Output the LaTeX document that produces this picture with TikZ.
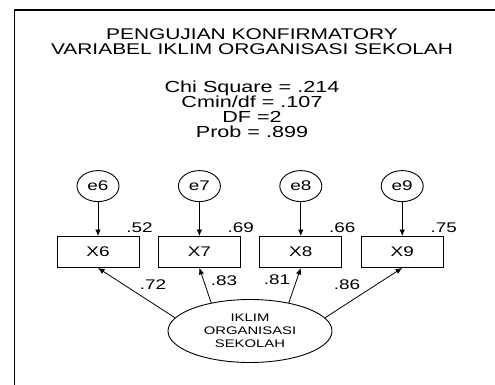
\documentclass[tikz,border=0pt]{standalone}
\usepackage{fontspec}
\setmainfont{Liberation Sans}
\usetikzlibrary{arrows.meta,positioning,shapes.geometric}
% AMOS draws its text stretched sideways
\newcommand{\wtxt}[1]{\scalebox{1.35}[1]{#1}}

\begin{document}
\begin{tikzpicture}[x=1pt, y=-1pt,
  every node/.style={inner sep=0pt},
  obs/.style={draw, line width=0.9pt, minimum width=82pt, minimum height=31pt, font=\fontsize{14}{14}\selectfont},
  err/.style={draw, ellipse, line width=0.9pt, minimum width=42pt, minimum height=31pt, font=\fontsize{14}{14}\selectfont},
  lat/.style={draw, ellipse, line width=0.9pt, minimum width=164pt, minimum height=63pt, align=center, font=\fontsize{11}{13}\selectfont},
  val/.style={font=\fontsize{14}{14}\selectfont},
  arr/.style={-{Latex[length=6.5pt,width=5.5pt]}, line width=0.8pt}]
\useasboundingbox (0,0) rectangle (495,385);
%----- cornice -----
\draw[line width=1.3pt] (14.5,385) -- (14.5,10) -- (495,10);

%----- titolo e statistiche -----
\node (title) [anchor=north, align=center, font=\fontsize{15.5}{15}\selectfont] at (252,28)
  {\wtxt{PENGUJIAN KONFIRMATORY}\\\wtxt{VARIABEL IKLIM ORGANISASI SEKOLAH}};
\node (stats) [anchor=north, align=center, font=\fontsize{16}{15}\selectfont] at (252,81)
  {\wtxt{Chi Square = .214}\\\wtxt{Cmin/df = .107}\\\wtxt{DF =2}\\\wtxt{Prob = .899}};

%----- indikatori -----
\node (x6) [obs] at (98,252) {\wtxt{X6}};
\node (x7) [obs, right=18.5pt of x6] {\wtxt{X7}};
\node (x8) [obs, right=18.5pt of x7] {\wtxt{X8}};
\node (x9) [obs, right=18.5pt of x8] {\wtxt{X9}};

% errori e R^2
\foreach \i/\r in {6/.52, 7/.69, 8/.66, 9/.75} {
  \node (e\i) [err, above=34pt of x\i] {\wtxt{e\i}};
  \node (r\i) [val, above=3pt of x\i.north east] {\wtxt{\r}};
  \draw[arr] (e\i) -- (x\i);
}

%----- variabile latente -----
\node (iklim) [lat] at (250,331) {\wtxt{IKLIM}\\\wtxt{ORGANISASI}\\\wtxt{SEKOLAH}};
\foreach \a/\i in {170/6, 144/7, 36/8, 10/9}
  \draw[arr] (iklim.\a) -- (x\i.south);
\node (l6) [val] at (153,285) {\wtxt{.72}};
\node (l7) [val] at (224,281) {\wtxt{.83}};
\node (l8) [val] at (277,280) {\wtxt{.81}};
\node (l9) [val] at (347,285) {\wtxt{.86}};
\end{tikzpicture}
\end{document}
